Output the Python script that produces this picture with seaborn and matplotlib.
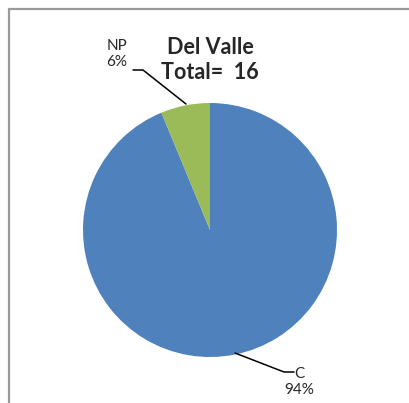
import matplotlib
matplotlib.use("Agg")
import matplotlib.pyplot as plt
from matplotlib.patches import Rectangle
import seaborn as sns

# data
categories = ["C", "NP"]
counts = [15, 1]
colors = ["#4F81BD", "#9BBB59"]
site = "Del Valle"

sns.set_theme(style="white")
plt.rcParams['font.family'] = ['Lato', 'DejaVu Sans']

W, H = 410, 403
fig = plt.figure(figsize=(W / 100, H / 100), dpi=100)

# frame around the chart area (cut off at right/bottom like the source)
fig.patches.append(Rectangle((8.5 / W, -0.1), 1.2, (H - 9.5) / H + 0.1,
                             transform=fig.transFigure, fill=False,
                             edgecolor="#9a9a9a", linewidth=1.6))

# pie centred at (210, 230) px, radius 127 px
cx, cy, r = 210, 230, 127
ax = fig.add_axes([(cx - r) / W, (H - cy - r) / H, 2 * r / W, 2 * r / H])
ax.pie(counts, colors=colors, startangle=90, counterclock=False,
       radius=1, wedgeprops=dict(linewidth=0))
ax.set_xlim(-1, 1)
ax.set_ylim(-1, 1)
ax.set_aspect("equal")
ax.axis("off")

total = sum(counts)
pcts = [round(100 * c / total) for c in counts]


def px(x, y):
    return ((x - cx) / r, (cy - y) / r)


# NP label + leader
ax.plot(*zip(px(133, 70), px(143, 70), px(186, 104)), color="black",
        lw=1.1, clip_on=False)
ax.text(*px(117, 54), f"{categories[1]}\n{pcts[1]}%", ha="center",
        va="center", fontsize=11, linespacing=1.2)

# C label + leader
ax.plot(*zip(px(235, 353), px(284, 372), px(294, 372)), color="black",
        lw=1.1, clip_on=False)
ax.text(*px(299, 382), f"{categories[0]}\n{pcts[0]}%", ha="center",
        va="center", fontsize=11, linespacing=1.2)

fig.text(210 / W, 1 - 60 / H, f"{site}\nTotal=  {total}", ha="center",
         va="center", fontsize=15.5, fontweight="bold", linespacing=1.25)

fig.savefig("out.png", dpi=100)
